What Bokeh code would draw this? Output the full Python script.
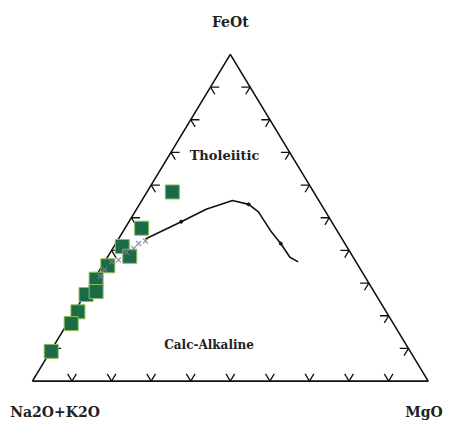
import numpy as np
from bokeh.plotting import figure
from bokeh.models import Range1d
from bokeh.core.properties import value
from bokeh.embed import file_html
from bokeh.resources import INLINE

# ---------------- data (wt% FeOt, Na2O+K2O, MgO) ----------------
sample_feot = [57.9, 46.8, 41.2, 38.2, 35.3, 31.2, 26.5, 27.4, 21.2, 17.6, 9.1]
sample_alk = [35.7, 49.0, 56.7, 56.3, 63.3, 68.3, 73.2, 70.2, 77.9, 81.4, 90.7]
sample_mgo = [6.4, 4.2, 2.1, 5.5, 1.4, 0.5, 0.3, 2.4, 0.9, 1.0, 0.2]

other_feot = [42.9, 42.1, 40.6, 39.4, 37.1, 36.5, 34.1, 32.1]
other_mgo = [7.1, 5.8, 5.3, 4.0, 3.2, 1.8, 1.2, 1.1]
other_alk = [100 - f - m for f, m in zip(other_feot, other_mgo)]

# Irvine & Baragar tholeiitic / calc-alkaline boundary
bound_feot = [43.5, 48.8, 52.6, 55.3, 54.1, 51.8, 45.9, 42.1, 37.9, 36.5]
bound_mgo = [6.8, 13.2, 17.6, 22.9, 27.6, 31.2, 37.3, 41.7, 46.1, 48.9]
bound_alk = [100 - f - m for f, m in zip(bound_feot, bound_mgo)]

tick_values = [10, 20, 30, 40, 50, 60, 70, 80, 90]

apex_labels = ["FeOt", "Na2O+K2O", "MgO"]
field_labels = ["Tholeiitic", "Calc-Alkaline"]


def tern(feot, alk, mgo):
    f = np.asarray(feot, float)
    a = np.asarray(alk, float)
    m = np.asarray(mgo, float)
    s = f + a + m
    f = f / s
    m = m / s
    return m + f / 2.0, f


def px(xp, yp):
    # reference-image pixel -> data coordinate (label placement only)
    return (xp - 33) / 410.0, (395 - yp) / 339.0


p = figure(width=446, height=423, output_backend="svg", toolbar_location=None,
           x_range=Range1d(-0.0806, 1.0462),
           y_range=Range1d(-0.1298, 1.165),
           x_axis_type=None, y_axis_type=None, min_border=0,
           outline_line_color=None, background_fill_color="white",
           border_fill_color="white")
p.grid.visible = False

# triangle outline
tx, ty = tern([0, 0, 100, 0], [100, 0, 0, 100], [0, 100, 0, 0])
p.line(tx, ty, line_color="#111111", line_width=1.6)

# ticks
L = 0.022
xs, ys = [], []
for t in tick_values:
    bx, by = tern(0, 100 - t, t)
    xs += [[bx - L / 2, bx, bx + L / 2]]
    ys += [[by + L, by, by + L]]
    rx, ry = tern(t, 0, 100 - t)
    xs += [[rx - L, rx, rx - L / 2]]
    ys += [[ry, ry, ry - L]]
    lx, ly = tern(t, 100 - t, 0)
    xs += [[lx + L, lx, lx + L / 2]]
    ys += [[ly, ly, ly - L]]
p.multi_line(xs, ys, line_color="#111111", line_width=1.3)

# boundary curve
cx, cy = tern(bound_feot, bound_alk, bound_mgo)
p.line(cx, cy, line_color="#111111", line_width=1.6)
p.scatter(cx[1::3], cy[1::3], size=3, color="#111111")

# samples
sx, sy = tern(sample_feot, sample_alk, sample_mgo)
p.scatter(sx, sy, marker="square", size=14, fill_color="#1b6b48",
          line_color="#8fbf5a", line_width=1)

# other minor points (greyish purple)
ox, oy = tern(other_feot, other_alk, other_mgo)
p.scatter(ox, oy, marker="x", size=7, line_color="#8a7b9c", line_width=1.3,
          line_alpha=0.8)

# labels
font = value("DejaVu Serif")
x0, y0 = px(238, 22)
p.text([x0], [y0], text=[apex_labels[0]], text_font=font, text_font_style="bold",
       text_font_size="14px", text_align="center", text_baseline="middle",
       text_color="#222222")
x1, y1 = px(10, 435)
p.text([x1], [y1], text=[apex_labels[1]], text_font=font, text_font_style="bold",
       text_font_size="14px", text_align="left", text_baseline="bottom",
       text_color="#222222")
x2, y2 = px(458, 435)
p.text([x2], [y2], text=[apex_labels[2]], text_font=font, text_font_style="bold",
       text_font_size="14px", text_align="right", text_baseline="bottom",
       text_color="#222222")
x3, y3 = px(232, 161)
p.text([x3], [y3], text=[field_labels[0]], text_font=font, text_font_style="bold",
       text_font_size="13px", text_align="center", text_baseline="middle",
       text_color="#222222")
x4, y4 = px(216, 358)
p.text([x4], [y4], text=[field_labels[1]], text_font=font, text_font_style="bold",
       text_font_size="12px", text_align="center", text_baseline="middle",
       text_color="#222222")

open("out.html", "w").write(file_html(p, INLINE))
